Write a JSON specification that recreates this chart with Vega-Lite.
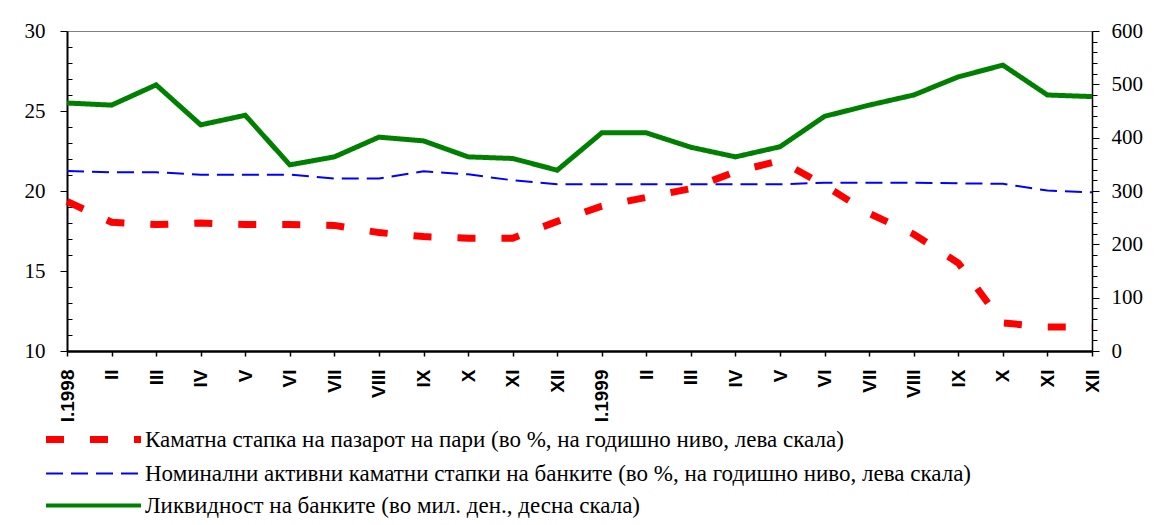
{
  "$schema": "https://vega.github.io/schema/vega-lite/v6.json",
  "width": 1025,
  "height": 320,
  "autosize": "none",
  "padding": {"left": 67, "top": 31, "right": 66, "bottom": 174},
  "background": "white",
  "config": {
    "view": {"stroke": "#808080", "strokeWidth": 1},
    "axis": {"grid": false, "domainColor": "black", "tickColor": "black", "labelColor": "black", "title": null},
    "legend": {
      "orient": "none",
      "legendX": 15,
      "legendY": 397,
      "symbolType": "stroke",
      "symbolSize": 9025,
      "symbolStrokeWidth": 5,
      "labelFont": "'Liberation Serif', 'Times New Roman', serif",
      "labelFontSize": 23,
      "labelLimit": 0,
      "labelOffset": 40,
      "rowPadding": 8,
      "title": null
    }
  },
  "data": {
    "values": [
      {"month": "I.1998", "r": 19.35, "b": 21.25, "l": 465},
      {"month": "II.1998", "r": 18.05, "b": 21.17, "l": 461},
      {"month": "III.1998", "r": 17.9, "b": 21.17, "l": 499},
      {"month": "IV.1998", "r": 18.0, "b": 21.02, "l": 424},
      {"month": "V.1998", "r": 17.9, "b": 21.02, "l": 442},
      {"month": "VI.1998", "r": 17.9, "b": 21.02, "l": 349},
      {"month": "VII.1998", "r": 17.85, "b": 20.78, "l": 364},
      {"month": "VIII.1998", "r": 17.4, "b": 20.78, "l": 401},
      {"month": "IX.1998", "r": 17.15, "b": 21.23, "l": 394},
      {"month": "X.1998", "r": 17.05, "b": 21.04, "l": 364},
      {"month": "XI.1998", "r": 17.05, "b": 20.67, "l": 361},
      {"month": "XII.1998", "r": 18.1, "b": 20.42, "l": 339},
      {"month": "I.1999", "r": 19.05, "b": 20.42, "l": 409},
      {"month": "II.1999", "r": 19.6, "b": 20.42, "l": 409},
      {"month": "III.1999", "r": 20.15, "b": 20.42, "l": 382},
      {"month": "IV.1999", "r": 21.2, "b": 20.42, "l": 364},
      {"month": "V.1999", "r": 21.9, "b": 20.42, "l": 383},
      {"month": "VI.1999", "r": 20.35, "b": 20.52, "l": 440},
      {"month": "VII.1999", "r": 18.6, "b": 20.52, "l": 461},
      {"month": "VIII.1999", "r": 17.3, "b": 20.52, "l": 480},
      {"month": "IX.1999", "r": 15.5, "b": 20.48, "l": 514},
      {"month": "X.1999", "r": 11.75, "b": 20.45, "l": 536},
      {"month": "XI.1999", "r": 11.5, "b": 20.03, "l": 480},
      {"month": "XII.1999", "r": 11.5, "b": 19.92, "l": 477}
    ]
  },
  "encoding": {
    "x": {
      "field": "month",
      "type": "ordinal",
      "scale": {
        "type": "point",
        "padding": 0,
        "domain": ["I.1998", "II.1998", "III.1998", "IV.1998", "V.1998", "VI.1998", "VII.1998", "VIII.1998", "IX.1998", "X.1998", "XI.1998", "XII.1998", "I.1999", "II.1999", "III.1999", "IV.1999", "V.1999", "VI.1999", "VII.1999", "VIII.1999", "IX.1999", "X.1999", "XI.1999", "XII.1999"]
      },
      "axis": {
        "labelAngle": -90,
        "labelExpr": "indexof(datum.label, 'I.') == 0 ? datum.label : split(datum.label, '.')[0]",
        "labelFont": "'Liberation Sans', Arial, sans-serif",
        "labelFontWeight": "bold",
        "labelFontSize": 19,
        "labelPadding": 13,
        "tickSize": 5,
        "domainWidth": 2.5,
        "tickWidth": 1.5,
        "labelOverlap": false
      }
    }
  },
  "layer": [
    {
      "encoding": {
        "y": {
          "type": "quantitative",
          "scale": {"domain": [10, 30], "nice": false, "zero": false},
          "axis": {
            "orient": "left",
            "values": [10, 11, 12, 13, 14, 15, 16, 17, 18, 19, 20, 21, 22, 23, 24, 25, 26, 27, 28, 29, 30],
            "labelExpr": "datum.value % 5 == 0 ? datum.label : ''",
            "labelFont": "'Liberation Serif', 'Times New Roman', serif",
            "labelFontSize": 21,
            "labelPadding": 15,
            "labelOverlap": false,
            "tickSize": {"condition": {"test": "datum.value % 5 == 0", "value": 7}, "value": -5},
            "domainWidth": 2
          }
        }
      },
      "layer": [
        {
          "mark": {"type": "line", "strokeWidth": 7},
          "encoding": {
            "y": {"field": "r", "type": "quantitative"},
            "color": {
              "datum": "r",
              "type": "nominal",
              "scale": {"domain": ["r", "b", "l"], "range": ["#ff0000", "#0000ff", "#008000"]},
              "legend": {
                "labelExpr": "datum.label == 'r' ? 'Каматна стапка на пазарот на пари (во %, на годишно ниво, лева скала)' : datum.label == 'b' ? 'Номинални активни каматни стапки на банките (во %, на годишно ниво, лева скала)' : 'Ликвидност на банките (во мил. ден., десна скала)'",
                "encode": {"symbols": {"update": {"strokeWidth": {"signal": "datum.value == 'r' ? 7 : datum.value == 'b' ? 2 : 4"}}}}
              }
            },
            "strokeDash": {
              "datum": "r",
              "type": "nominal",
              "scale": {"domain": ["r", "b", "l"], "range": [[18, 26], [17, 8], [1, 0]]}
            }
          }
        },
        {
          "mark": {"type": "line", "strokeWidth": 2},
          "encoding": {
            "y": {"field": "b", "type": "quantitative"},
            "color": {"datum": "b", "type": "nominal"},
            "strokeDash": {"datum": "b", "type": "nominal"}
          }
        }
      ]
    },
    {
      "mark": {"type": "line", "strokeWidth": 5},
      "encoding": {
        "y": {
          "field": "l",
          "type": "quantitative",
          "scale": {"domain": [0, 600], "nice": false},
          "axis": {
            "orient": "right",
            "values": [0, 20, 40, 60, 80, 100, 120, 140, 160, 180, 200, 220, 240, 260, 280, 300, 320, 340, 360, 380, 400, 420, 440, 460, 480, 500, 520, 540, 560, 580, 600],
            "labelExpr": "datum.value % 100 == 0 ? datum.label : ''",
            "labelFont": "'Liberation Serif', 'Times New Roman', serif",
            "labelFontSize": 21,
            "labelPadding": 12,
            "labelOverlap": false,
            "tickSize": {"condition": {"test": "datum.value % 100 == 0", "value": 7}, "value": 5},
            "domainWidth": 1.5
          }
        },
        "color": {"datum": "l", "type": "nominal"},
        "strokeDash": {"datum": "l", "type": "nominal"}
      }
    }
  ],
  "resolve": {"scale": {"y": "independent"}}
}
